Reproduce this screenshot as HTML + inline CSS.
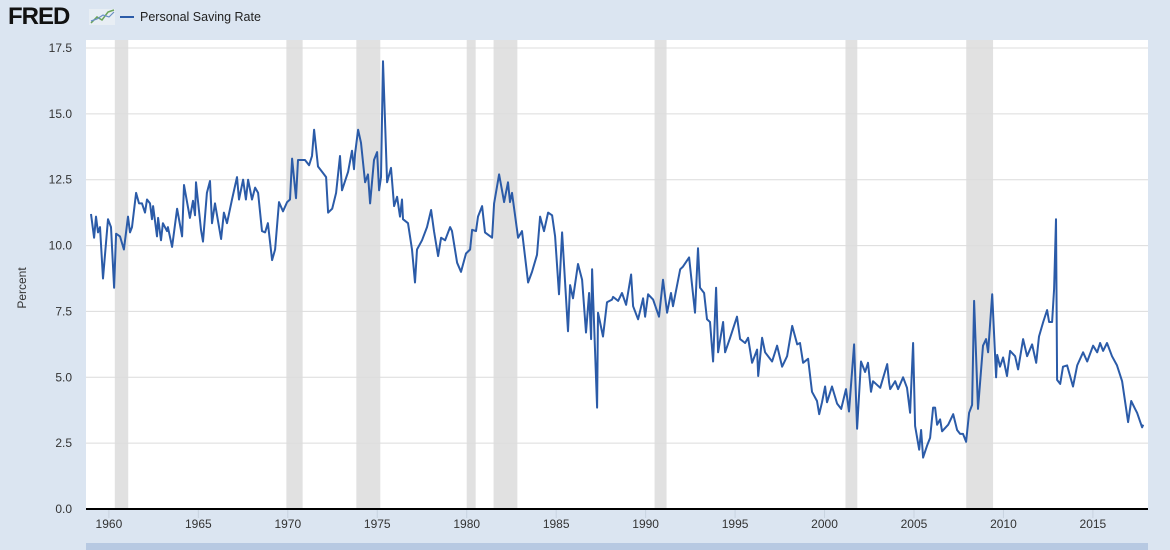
<!DOCTYPE html>
<html><head><meta charset="utf-8"><style>
html,body{margin:0;padding:0;background:#dbe5f1;width:1170px;height:550px;overflow:hidden}
svg{display:block;font-family:"Liberation Sans","DejaVu Sans",sans-serif}
</style></head><body>
<svg id="chart" width="1170" height="550">
  <rect x="0" y="0" width="1170" height="550" fill="#dbe5f1"/>
  <g>
    <text x="8" y="24" font-size="24" font-weight="bold" fill="#111" letter-spacing="-1">FRED</text>
    <rect x="89" y="9" width="26" height="16" fill="#e8eef4"/>
    <polyline points="91,23 97,17 102,20 108,12 114,10" fill="none" stroke="#6ba55a" stroke-width="1.5"/>
    <polyline points="91,21 97,19 103,15 109,17 114,12" fill="none" stroke="#6a8fc4" stroke-width="1.2"/>
  </g>
  <g>
    <line x1="120" y1="17" x2="134" y2="17" stroke="#2b5ba8" stroke-width="2"/>
    <text x="140" y="21" font-size="12.5" fill="#222">Personal Saving Rate</text>
  </g>
  <rect x="86" y="40" width="1062" height="470" fill="#fff"/>
  <g id="rec"></g>
  <g id="grid"></g>
  <line x1="86" y1="509" x2="1148" y2="509" stroke="#000" stroke-width="2"/>
  <g id="xt"></g>
  <g id="yt"></g>
  <text transform="translate(26,288) rotate(-90)" font-size="12" fill="#333" text-anchor="middle">Percent</text>
  <path id="series" fill="none" stroke="#2b5ba8" stroke-width="2" stroke-linejoin="round"/>
  <rect x="86" y="543" width="1062" height="7" fill="#b7c9e2"/>
</svg>
<script>
const years=[1959.00,1959.17,1959.28,1959.39,1959.50,1959.67,1959.95,1960.12,1960.29,1960.40,1960.62,1960.84,1961.07,1961.18,1961.29,1961.52,1961.68,1961.85,1962.02,1962.13,1962.30,1962.41,1962.47,1962.69,1962.75,1962.91,1963.02,1963.25,1963.30,1963.53,1963.81,1964.09,1964.20,1964.53,1964.70,1964.81,1964.87,1965.15,1965.26,1965.48,1965.65,1965.76,1965.93,1966.27,1966.43,1966.60,1966.88,1967.16,1967.27,1967.50,1967.66,1967.78,1968.00,1968.17,1968.34,1968.56,1968.73,1968.89,1969.12,1969.29,1969.51,1969.73,1969.96,1970.12,1970.24,1970.46,1970.57,1970.96,1971.19,1971.35,1971.47,1971.69,1971.97,1972.14,1972.25,1972.48,1972.70,1972.92,1973.03,1973.37,1973.59,1973.70,1973.76,1973.93,1974.09,1974.32,1974.48,1974.60,1974.82,1974.99,1975.10,1975.21,1975.32,1975.55,1975.77,1975.94,1976.11,1976.27,1976.38,1976.44,1976.72,1976.94,1977.11,1977.22,1977.50,1977.78,1978.01,1978.17,1978.40,1978.57,1978.79,1979.07,1979.18,1979.46,1979.68,1979.96,1980.19,1980.30,1980.52,1980.63,1980.86,1981.02,1981.42,1981.53,1981.81,1981.97,1982.09,1982.31,1982.42,1982.53,1982.87,1983.09,1983.43,1983.65,1983.93,1984.10,1984.32,1984.55,1984.77,1984.94,1985.16,1985.33,1985.66,1985.78,1985.94,1986.22,1986.45,1986.67,1986.84,1986.95,1987.01,1987.29,1987.34,1987.45,1987.62,1987.84,1988.12,1988.18,1988.46,1988.68,1988.91,1989.19,1989.30,1989.58,1989.86,1989.97,1990.14,1990.42,1990.75,1990.97,1991.20,1991.42,1991.53,1991.93,1992.09,1992.43,1992.76,1992.93,1993.04,1993.27,1993.43,1993.60,1993.77,1993.94,1994.05,1994.33,1994.44,1994.72,1995.11,1995.28,1995.56,1995.73,1995.95,1996.23,1996.29,1996.51,1996.68,1997.07,1997.35,1997.63,1997.91,1998.19,1998.47,1998.63,1998.80,1999.08,1999.30,1999.58,1999.70,1999.86,2000.03,2000.14,2000.42,2000.70,2000.93,2001.20,2001.37,2001.65,2001.82,2002.04,2002.27,2002.43,2002.60,2002.71,2003.11,2003.50,2003.61,2003.67,2003.95,2004.11,2004.39,2004.61,2004.78,2004.95,2005.06,2005.29,2005.40,2005.51,2005.73,2005.90,2006.07,2006.18,2006.29,2006.46,2006.57,2006.91,2007.19,2007.41,2007.58,2007.74,2007.91,2008.08,2008.25,2008.36,2008.58,2008.86,2009.03,2009.14,2009.37,2009.59,2009.65,2009.81,2009.98,2010.20,2010.37,2010.65,2010.82,2011.10,2011.32,2011.60,2011.83,2011.99,2012.22,2012.44,2012.55,2012.72,2012.83,2012.94,2013.00,2013.17,2013.33,2013.56,2013.89,2014.12,2014.45,2014.68,2015.01,2015.24,2015.40,2015.57,2015.79,2016.07,2016.35,2016.63,2016.97,2017.14,2017.36,2017.47,2017.75,2017.81];
const values=[11.2,10.3,11.1,10.5,10.7,8.75,11.0,10.7,8.4,10.45,10.35,9.85,11.1,10.5,10.7,12.0,11.6,11.6,11.25,11.75,11.6,11.0,11.5,10.35,11.05,10.2,10.85,10.55,10.7,9.95,11.4,10.35,12.3,11.05,11.7,11.15,12.4,10.6,10.15,12.0,12.45,10.85,11.6,10.25,11.25,10.85,11.75,12.6,11.75,12.5,11.75,12.5,11.75,12.2,12.0,10.55,10.5,10.85,9.45,9.85,11.65,11.3,11.65,11.75,13.3,11.8,13.25,13.25,13.05,13.4,14.4,13.0,12.75,12.6,11.25,11.4,12.0,13.4,12.1,12.8,13.6,12.9,13.5,14.4,13.9,12.4,12.7,11.6,13.25,13.55,12.1,12.6,17.0,12.4,12.95,11.5,11.85,11.1,11.75,11.0,10.85,9.85,8.6,9.85,10.2,10.7,11.35,10.55,9.6,10.3,10.2,10.7,10.55,9.35,9.0,9.7,9.85,10.6,10.55,11.1,11.5,10.5,10.3,11.6,12.7,12.1,11.65,12.4,11.65,12.0,10.3,10.55,8.6,9.0,9.65,11.1,10.55,11.25,11.15,10.35,8.15,10.5,6.75,8.5,8.0,9.3,8.7,6.7,8.2,6.45,9.1,3.85,7.45,7.1,6.55,7.85,7.95,8.05,7.9,8.2,7.75,8.9,7.7,7.2,8.0,7.3,8.15,7.95,7.3,8.7,7.45,8.2,7.7,9.1,9.2,9.55,7.45,9.9,8.4,8.2,7.2,7.1,5.6,8.4,5.95,7.1,5.95,6.5,7.3,6.45,6.3,6.5,5.55,6.05,5.05,6.5,5.95,5.6,6.2,5.4,5.8,6.95,6.25,6.3,5.55,5.7,4.45,4.1,3.6,4.05,4.65,4.05,4.65,4.0,3.8,4.55,3.7,6.25,3.05,5.6,5.2,5.55,4.45,4.85,4.6,5.5,4.8,4.55,4.85,4.55,5.0,4.6,3.65,6.3,3.15,2.25,3.0,1.95,2.4,2.7,3.85,3.85,3.2,3.4,2.95,3.2,3.6,3.0,2.85,2.85,2.55,3.65,3.95,7.9,3.8,6.2,6.45,5.95,8.15,5.0,5.85,5.4,5.75,5.05,6.0,5.8,5.3,6.45,5.8,6.25,5.55,6.55,7.1,7.55,7.1,7.1,8.35,11.0,4.9,4.75,5.4,5.45,4.65,5.45,5.95,5.6,6.2,5.95,6.3,6.0,6.3,5.8,5.45,4.85,3.3,4.1,3.8,3.65,3.1,3.2];
const recStart=[1960.33,1969.92,1973.83,1980.0,1981.5,1990.5,2001.17,2007.92];
const recEnd=[1961.08,1970.83,1975.17,1980.5,1982.83,1991.17,2001.83,2009.42];
const yTicks=[0,2.5,5,7.5,10,12.5,15,17.5];
const xTicks=[1960,1965,1970,1975,1980,1985,1990,1995,2000,2005,2010,2015];

const X0=86,X1=1148,Y0=509,Y1=48;
const xMin=1958.72,xMax=2018.08,yMin=0,yMax=17.5;
const xs=v=>X0+(v-xMin)/(xMax-xMin)*(X1-X0);
const ys=v=>Y0-(v-yMin)/(yMax-yMin)*(Y0-Y1);
const NS='http://www.w3.org/2000/svg';
function mk(tag,attrs,parent){const e=document.createElementNS(NS,tag);for(const k in attrs)e.setAttribute(k,attrs[k]);parent.appendChild(e);return e;}

const rec=document.getElementById('rec');
recStart.forEach((s,i)=>{
  const r=mk('rect',{x:xs(s),y:40,width:xs(recEnd[i])-xs(s),height:Y0-40,fill:'#e1e1e1'},rec);
  
  
});
const grid=document.getElementById('grid'),yt=document.getElementById('yt');
yTicks.forEach(v=>{
  if(v>0){const l=mk('line',{x1:X0,x2:X1,y1:ys(v),y2:ys(v),stroke:'#dcdcdc','stroke-width':1},grid);
  
  }
  const t=mk('text',{x:72,y:ys(v)+4,'font-size':12,fill:'#333','text-anchor':'end'},yt);
  t.textContent=v.toFixed(1);
  
  
});
const xt=document.getElementById('xt');
xTicks.forEach(v=>{
  const l=mk('line',{x1:xs(v),x2:xs(v),y1:510,y2:518,stroke:'#c8d3e0','stroke-width':1},xt);
  
  
  const t=mk('text',{x:xs(v),y:528,'font-size':12,fill:'#333','text-anchor':'middle'},xt);
  t.textContent=v;
  
  
});
let d='';
years.forEach((yr,i)=>{d+=(i?'L':'M')+xs(yr).toFixed(1)+','+ys(values[i]).toFixed(1);});
document.getElementById('series').setAttribute('d',d);
</script>
</body></html>
